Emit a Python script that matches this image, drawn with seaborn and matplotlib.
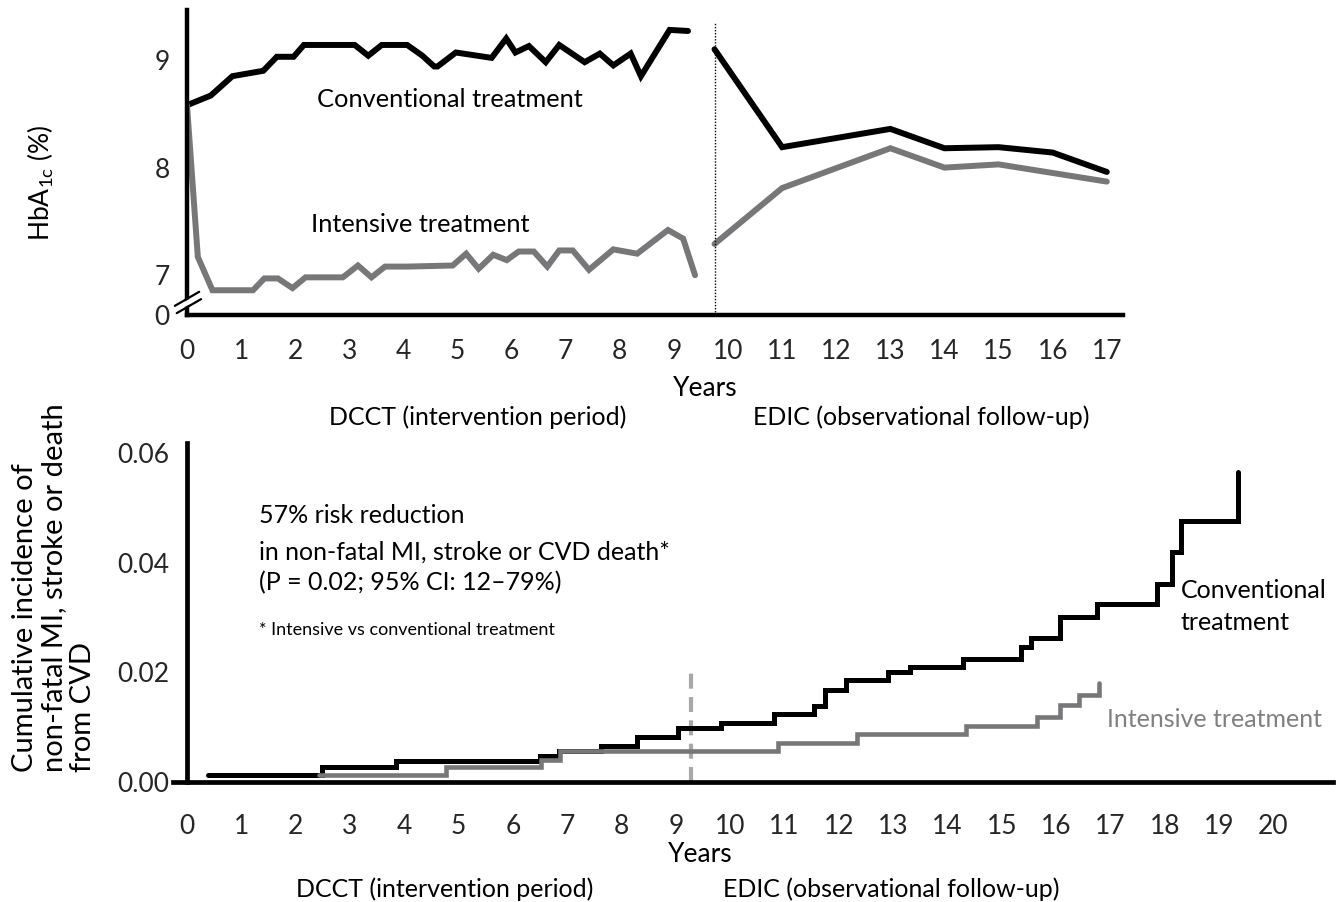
import matplotlib
matplotlib.use("Agg")
import matplotlib.pyplot as plt
import seaborn as sns

# ---------------- data: top panel (HbA1c, %) ----------------
dcct_years_conv = [0, 0.44, 0.84, 1.41, 1.66, 1.97, 2.16, 3.10, 3.35, 3.60, 4.07, 4.35, 4.57, 4.63,
                   4.97, 5.63, 5.90, 6.07, 6.32, 6.63, 6.88, 7.35, 7.63, 7.88, 8.20, 8.39, 8.92, 9.26]
dcct_hba1c_conv = [8.58, 8.67, 8.85, 8.90, 9.03, 9.03, 9.14, 9.14, 9.04, 9.14, 9.14, 9.04, 8.94, 8.94,
                   9.07, 9.02, 9.20, 9.07, 9.13, 8.98, 9.14, 8.98, 9.06, 8.95, 9.06, 8.85, 9.28, 9.27]
dcct_years_int = [0, 0.20, 0.47, 1.22, 1.43, 1.68, 1.95, 2.19, 2.88, 3.16, 3.41, 3.66, 4.07, 4.91, 5.16,
                  5.39, 5.66, 5.91, 6.13, 6.41, 6.66, 6.88, 7.13, 7.43, 7.88, 8.32, 8.89, 9.17, 9.39]
dcct_hba1c_int = [8.58, 7.17, 6.86, 6.86, 6.97, 6.97, 6.88, 6.98, 6.98, 7.09, 6.98, 7.08, 7.08, 7.09, 7.20,
                  7.06, 7.19, 7.14, 7.22, 7.22, 7.08, 7.23, 7.23, 7.05, 7.24, 7.20, 7.42, 7.34, 7.00]
edic_years_conv = [9.75, 11, 13, 14, 15, 16, 17]
edic_hba1c_conv = [9.10, 8.19, 8.36, 8.18, 8.19, 8.14, 7.96]
edic_years_int = [9.75, 11, 13, 14, 15, 17]
edic_hba1c_int = [7.29, 7.81, 8.18, 8.00, 8.03, 7.87]
edic_start_year = 9.75

top_xticks = list(range(0, 18))
top_xtick_labels = [str(v) for v in top_xticks]
top_yticks = [6.63, 7, 8, 9]
top_ytick_labels = ["0", "7", "8", "9"]

# ---------------- data: bottom panel (cumulative incidence) ----------------
conv_times = [0.39, 2.48, 3.85, 6.50, 6.85, 7.62, 8.28, 9.03, 9.83, 10.80, 11.54, 11.74, 12.13, 12.90,
              13.32, 14.29, 15.36, 15.53, 16.07, 16.75, 17.85, 18.13, 18.30, 19.35]
conv_incidence = [0.0013, 0.0028, 0.0039, 0.0047, 0.0057, 0.0066, 0.0082, 0.0098, 0.0107, 0.0124,
                  0.0139, 0.0168, 0.0186, 0.0201, 0.0210, 0.0225, 0.0246, 0.0262, 0.0301, 0.0325,
                  0.0361, 0.0420, 0.0476, 0.0566]
int_times = [2.42, 4.76, 6.52, 6.87, 10.88, 12.34, 14.35, 15.65, 16.08, 16.43, 16.79]
int_incidence = [0.0012, 0.0027, 0.0040, 0.0056, 0.0072, 0.0088, 0.0103, 0.0118, 0.0140, 0.0159, 0.0181]
dcct_end_year = 9.28
dcct_end_marker_height = 0.021

bot_xticks = list(range(0, 22))
bot_xtick_labels = [str(v) for v in range(0, 21)] + [""]
bot_yticks = [0.0, 0.02, 0.04, 0.06]
bot_ytick_labels = ["0.00", "0.02", "0.04", "0.06"]

BLACK = "#000000"
GREY = "#77777a"
GREY_TXT = "#808080"
GREY_DASH = "#a8a8a8"

sns.set_theme(style="white")
plt.rcParams["font.family"] = ["Lato", "DejaVu Sans"]
plt.rcParams["mathtext.fontset"] = "custom"
plt.rcParams["mathtext.rm"] = "Lato"

W, H = 1343, 902
fig = plt.figure(figsize=(W / 100, H / 100), dpi=100)

def fx(px):
    return px / W

def fy(py):
    return 1 - py / H

# ================= TOP PANEL =================
ax1 = fig.add_axes([fx(187), fy(315), 936 / W, 305 / H])
sns.lineplot(x=dcct_years_conv, y=dcct_hba1c_conv, ax=ax1, color=BLACK, lw=4.3,
             estimator=None, sort=False, solid_joinstyle="miter")
sns.lineplot(x=dcct_years_int, y=dcct_hba1c_int, ax=ax1, color=GREY, lw=4.3,
             estimator=None, sort=False, solid_joinstyle="miter")
sns.lineplot(x=edic_years_conv, y=edic_hba1c_conv, ax=ax1, color=BLACK, lw=4.3,
             estimator=None, sort=False, solid_joinstyle="miter")
sns.lineplot(x=edic_years_int, y=edic_hba1c_int, ax=ax1, color=GREY, lw=4.3,
             estimator=None, sort=False, solid_joinstyle="miter")
ax1.axvline(edic_start_year, ymin=0, ymax=0.96, color=BLACK, lw=1.0, ls=(0, (1, 1.2)))

ax1.set_xlim(0, 17.3)
ax1.set_ylim(6.63, 9.465)
for s in ["top", "right"]:
    ax1.spines[s].set_visible(False)
for s in ["left", "bottom"]:
    ax1.spines[s].set_linewidth(3.2)
    ax1.spines[s].set_color(BLACK)
ax1.set_xticks(top_xticks)
ax1.set_xticklabels(top_xtick_labels)
ax1.set_yticks(top_yticks)
ax1.set_yticklabels(top_ytick_labels)
ax1.tick_params(axis="x", direction="out", length=11, width=3, labelsize=19, pad=6, color=BLACK)
ax1.tick_params(axis="y", direction="out", length=8.5, width=3, labelsize=19, pad=4, color=BLACK)
ax1.xaxis.get_major_ticks()[0].tick1line.set_visible(False)
ax1.yaxis.get_major_ticks()[0].tick1line.set_visible(False)
ax1.set_xlabel("")
ax1.set_ylabel("")

# axis break marks
ax1.plot([-0.012, 0.014], [0.018, 0.064], color="white", lw=3.5, transform=ax1.transAxes,
         clip_on=False, zorder=6, solid_capstyle="butt")
ax1.plot([-0.013, 0.013], [0.030, 0.076], color=BLACK, lw=1.6, transform=ax1.transAxes,
         clip_on=False, zorder=7)
ax1.plot([-0.011, 0.015], [0.006, 0.052], color=BLACK, lw=1.6, transform=ax1.transAxes,
         clip_on=False, zorder=7)

ax1.text(2.40, 8.56, "Conventional treatment", fontsize=18.3, color=BLACK, va="baseline", ha="left")
ax1.text(2.30, 7.40, "Intensive treatment", fontsize=18.3, color=BLACK, va="baseline", ha="left")

fig.text(fx(41), fy(183), "HbA$_{\\mathregular{1c}}$ (%)", rotation=90, ha="center", va="center",
         fontsize=19, color=BLACK)
fig.text(fx(705), fy(388), "Years", ha="center", va="center", fontsize=19, color=BLACK)
fig.text(fx(478), fy(417), "DCCT (intervention period)", ha="center", va="center", fontsize=18, color=BLACK)
fig.text(fx(921), fy(417), "EDIC (observational follow-up)", ha="center", va="center", fontsize=18, color=BLACK)

# ================= BOTTOM PANEL =================
ax2 = fig.add_axes([fx(173), fy(782), 1160 / W, 339 / H])
sns.lineplot(x=conv_times, y=conv_incidence, ax=ax2, color=BLACK, lw=3.6, drawstyle="steps-post",
             estimator=None, sort=False, solid_joinstyle="miter")
sns.lineplot(x=int_times, y=int_incidence, ax=ax2, color=GREY, lw=3.3, drawstyle="steps-post",
             estimator=None, sort=False, solid_joinstyle="miter")
ax2.axvline(dcct_end_year, ymin=0, ymax=dcct_end_marker_height / 0.0618, color=GREY_DASH, lw=3.0,
            ls=(0, (3.6, 2.0)), zorder=1)

ax2.set_xlim(-0.26, 21.1)
ax2.set_ylim(0, 0.0618)
for s in ["top", "right"]:
    ax2.spines[s].set_visible(False)
for s in ["left", "bottom"]:
    ax2.spines[s].set_linewidth(3.4)
    ax2.spines[s].set_color(BLACK)
ax2.spines["left"].set_position(("data", 0))
ax2.set_xticks(bot_xticks)
ax2.set_xticklabels(bot_xtick_labels)
ax2.set_yticks(bot_yticks)
ax2.set_yticklabels(bot_ytick_labels)
ax2.tick_params(axis="x", direction="out", length=11, width=3, labelsize=19, pad=12, color=BLACK)
ax2.tick_params(axis="y", direction="out", length=9, width=3, labelsize=19, pad=4, color=BLACK)
ax2.xaxis.get_major_ticks()[0].tick1line.set_visible(False)
ax2.set_xlabel("")
ax2.set_ylabel("")

ax2.text(1.33, 0.0472, "57% risk reduction", fontsize=18, va="baseline", ha="left", color=BLACK)
ax2.text(1.33, 0.0406, "in non-fatal MI, stroke or CVD death*", fontsize=18, va="baseline", ha="left", color=BLACK)
ax2.text(1.33, 0.0350, "(P = 0.02; 95% CI: 12\u201379%)", fontsize=18, va="baseline", ha="left", color=BLACK)
ax2.text(1.33, 0.0268, "* Intensive vs conventional treatment", fontsize=13, va="baseline", ha="left", color=BLACK)
ax2.text(18.29, 0.0336, "Conventional", fontsize=18, va="baseline", ha="left", color=BLACK)
ax2.text(18.29, 0.0277, "treatment", fontsize=18, va="baseline", ha="left", color=BLACK)
ax2.text(16.94, 0.0100, "Intensive treatment", fontsize=18, va="baseline", ha="left", color=GREY_TXT)

fig.text(fx(54), fy(772), "Cumulative incidence of\nnon-fatal MI, stroke or death\nfrom CVD",
         rotation=90, ha="center", va="bottom", multialignment="left", fontsize=21,
         linespacing=1.13, color=BLACK)
fig.text(fx(700), fy(854), "Years", ha="center", va="center", fontsize=19, color=BLACK)
fig.text(fx(445), fy(889), "DCCT (intervention period)", ha="center", va="center", fontsize=18, color=BLACK)
fig.text(fx(891), fy(889), "EDIC (observational follow-up)", ha="center", va="center", fontsize=18, color=BLACK)

fig.savefig("out.png", dpi=100, facecolor="white")
